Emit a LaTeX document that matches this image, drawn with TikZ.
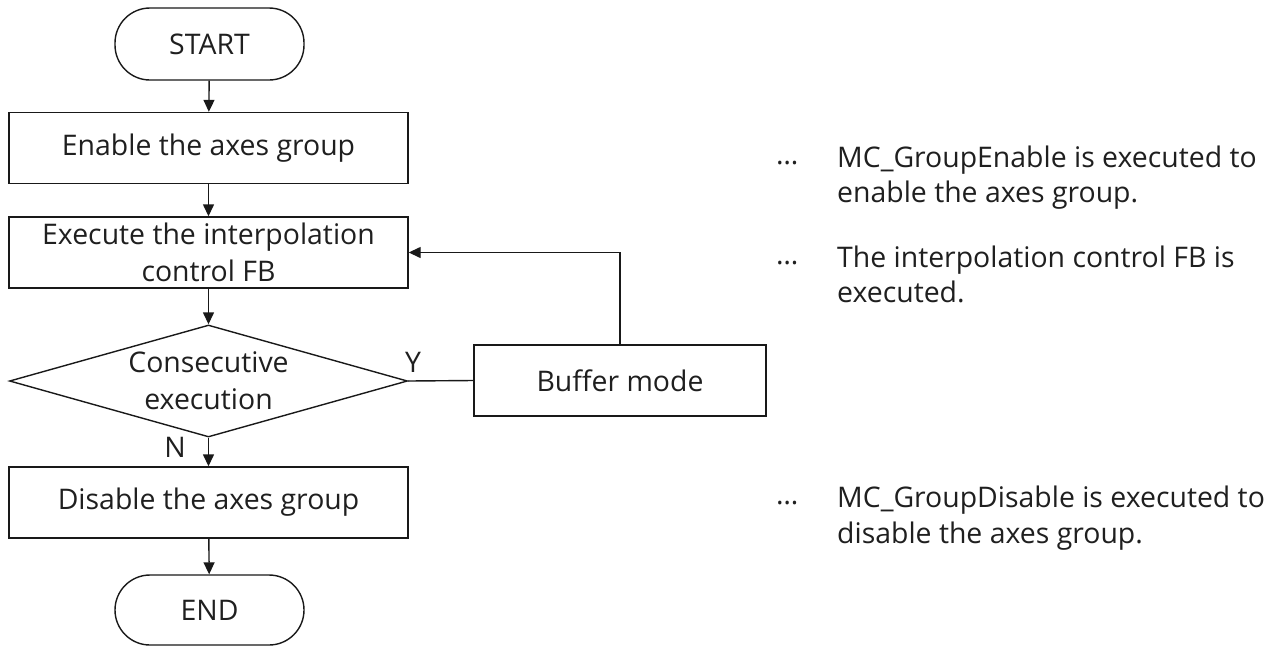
\documentclass[tikz,border=0pt]{standalone}
\usepackage{fontspec}
\setmainfont{Open Sans}
\usetikzlibrary{arrows.meta,shapes.geometric}
\begin{document}
\begin{tikzpicture}[x=1pt,y=-1pt,
  every node/.style={font=\fontsize{28.4}{37}\selectfont, text=black!88},
  outline/.style={draw=black!90, line width=1.4pt},
  box/.style={outline, minimum width=399pt, minimum height=71pt, inner sep=0pt, align=center},
  term/.style={outline, rounded corners=35pt, minimum width=189pt, minimum height=72pt, inner sep=0pt},
  decision/.style={outline, diamond, aspect=3.55, minimum width=398pt, minimum height=112pt, inner sep=0pt, align=center},
  flow/.style={draw=black!90, line width=1.4pt, -{Triangle[length=12pt,width=11pt]}},
  plain/.style={draw=black!90, line width=1.4pt},
  note/.style={anchor=base west, inner sep=0pt, align=left, font=\fontsize{28.4}{35.5}\selectfont},
  bullet/.style={anchor=base west, inner sep=0pt},
  tag/.style={inner sep=0pt}
]
\useasboundingbox (0,0) rectangle (1273,646);

% main column
\node[term] (start) at (209.5,44) {START};
\node[box] (enable) at (208.5,148) {Enable the axes group};
\node[box] (exec) at (208.5,252.5) {Execute the interpolation\\control FB};
\node[decision] (cons) at (208.5,381) {Consecutive\\execution};
\node[box] (disable) at (208.5,502.5) {Disable the axes group};
\node[term, minimum height=70pt] (end) at (209.5,610) {END};

% side branch
\node[box, minimum width=292pt] (buffer) at (620,380.5) {Buffer mode};

% connectors
\draw[flow] (start) -- (enable);
\draw[flow] (enable) -- (exec);
\draw[flow] (exec) -- (cons);
\draw[flow] (cons) -- (disable);
\draw[flow] (disable) -- (end);
\draw[plain] (cons.east) -- (buffer.west);
\draw[flow] (buffer.north) |- (exec.east);

% branch labels
\node[tag] (ylab) at (413,362) {Y};
\node[tag] (nlab) at (175,447) {N};

% explanatory notes (anchored at the baseline of their last line)
\node[bullet] (m1) at (776,164) {…};
\node[note] (t1) at (837,202.5) {MC\_GroupEnable is executed to\\enable the axes group.};
\node[bullet] (m2) at (776,264) {…};
\node[note] (t2) at (837,302.5) {The interpolation control FB is\\executed.};
\node[bullet] (m3) at (776,504) {…};
\node[note] (t3) at (837,543) {MC\_GroupDisable is executed to\\disable the axes group.};
\end{tikzpicture}
\end{document}
